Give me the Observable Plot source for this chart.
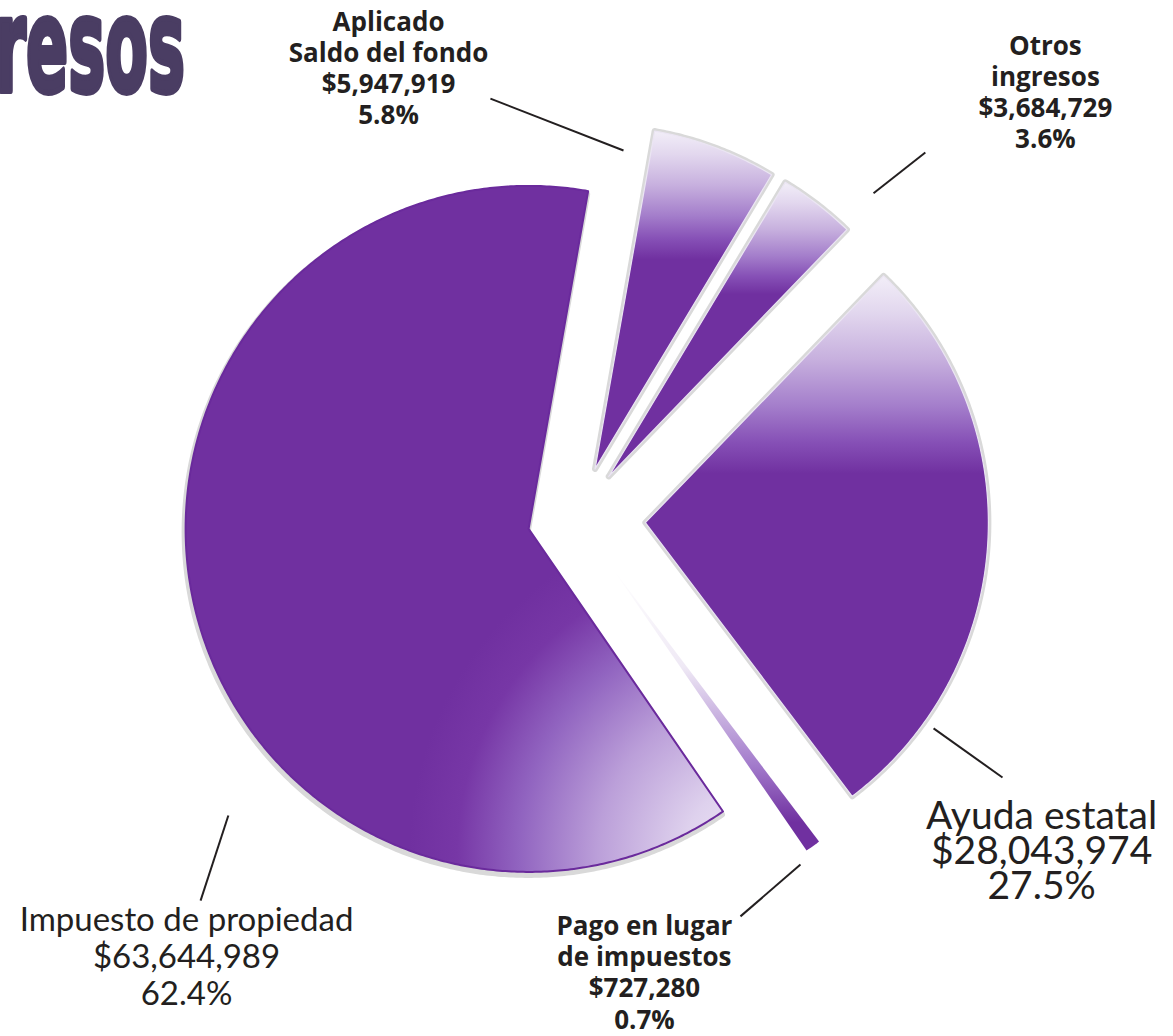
<!DOCTYPE html>
<html>
<head>
<meta charset="utf-8">
<script src="https://cdn.jsdelivr.net/npm/d3@7"></script>
<script src="https://cdn.jsdelivr.net/npm/@observablehq/plot@0.6"></script>
<style>
  html, body { margin: 0; padding: 0; background: #ffffff; }
  #chart { width: 1173px; height: 1036px; overflow: hidden; }
</style>
</head>
<body>
<div id="chart"></div>
<script>
// ---------------- DATA ----------------
const title = "Ingresos";
const categories = [
  "Aplicado Saldo del fondo",
  "Otros ingresos",
  "Ayuda estatal",
  "Pago en lugar de impuestos",
  "Impuesto de propiedad"
];
const labelLines = [
  ["Aplicado", "Saldo del fondo"],
  ["Otros", "ingresos"],
  ["Ayuda estatal"],
  ["Pago en lugar", "de impuestos"],
  ["Impuesto de propiedad"]
];
const amounts = [5947919, 3684729, 28043974, 727280, 63644989];

// ---------------- LAYOUT / STYLE ----------------
const W = 1173, H = 1036;
const R = 343;            // pie radius in px (1 unit)
const CX = 576, CY = 518; // base pie centre in px
const startDeg = 10;      // first slice start, clockwise from 12 o'clock
const explodePx = [53, 53, 69, 61, 49];
// label block anchors (top-centre), in pie-radius units from the centre
const labelPos = [[-0.548, -1.487], [1.367, -1.417], [1.356, 0.833], [0.198, 1.150], [-1.137, 1.126]];
// leader lines, in pie-radius units from the centre
const leaderPos = [
  [0.137, -1.073, -0.251, -1.224],
  [0.866, -0.948, 1.017, -1.067],
  [1.041, 0.612, 1.242, 0.755],
  [0.653, 1.009, 0.478, 1.160],
  [-1.015, 0.866, -1.096, 1.114]
];
const labelStyle = [
  {font: "Open Sans", weight: "bold", size: 26, lh: 1.2},
  {font: "Open Sans", weight: "bold", size: 26, lh: 1.2},
  {font: "Lato", weight: "normal", size: 39, lh: 0.9},
  {font: "Open Sans", weight: "bold", size: 26, lh: 1.2},
  {font: "Lato", weight: "normal", size: 33, lh: 1.12}
];
const PURPLE = "#7030a0";
const INK = "#231f20";

// ---------------- GEOMETRY ----------------
const total = d3.sum(amounts);
const fmtMoney = d3.format("$,");
const fmtPct = d3.format(".1%");
const a0 = startDeg * Math.PI / 180;
const arcs = d3.pie().sort(null).value(d => d).startAngle(a0).endAngle(a0 + 2 * Math.PI)(amounts);

const slices = arcs.map((a, i) => {
  const mid = (a.startAngle + a.endAngle) / 2;
  const e = explodePx[i] / R;
  const ox = e * Math.sin(mid), oy = -e * Math.cos(mid);
  const pts = [{x: ox, y: oy}];
  const n = Math.max(4, Math.ceil((a.endAngle - a.startAngle) / (Math.PI / 360)));
  for (let k = 0; k <= n; k++) {
    const t = a.startAngle + (a.endAngle - a.startAngle) * k / n;
    pts.push({x: ox + Math.sin(t), y: oy - Math.cos(t)});
  }
  pts.push({x: ox, y: oy});
  return {i, a, ox, oy, pts};
});

// gradient definitions
function gradientDefs(index, scales) {
  const sx = scales && typeof scales.x === "function" ? scales.x : (u => CX + u * R);
  const sy = scales && typeof scales.y === "function" ? scales.y : (u => CY + u * R);
  const defs = d3.create("svg:defs");
  const lin = [
    [0, "#f2eef8"], [0.07, "#e2d7ee"], [0.16, "#c7b0de"], [0.25, "#a47ecb"],
    [0.32, "#8650b6"], [0.38, PURPLE], [1, PURPLE]
  ];
  [0, 1, 2].forEach(i => {
    const g = defs.append("linearGradient").attr("id", "grad" + i)
      .attr("x1", 0).attr("y1", 0).attr("x2", 0).attr("y2", 1);
    lin.forEach(([o, c]) => g.append("stop").attr("offset", o).attr("stop-color", c));
  });
  const gp = defs.append("linearGradient").attr("id", "grad3")
    .attr("x1", 0).attr("y1", 0).attr("x2", 0).attr("y2", 1);
  [[0, "#ffffff"], [0.35, "#efe9f5"], [0.7, "#a27acb"], [0.9, PURPLE], [1, PURPLE]]
    .forEach(([o, c]) => gp.append("stop").attr("offset", o).attr("stop-color", c));
  // radial highlight of the large slice, placed just beyond its first corner
  const s = slices[4];
  const gx = s.ox + 1.15 * Math.sin(s.a.startAngle);
  const gy = s.oy - 1.15 * Math.cos(s.a.startAngle);
  const rr = sx(1) - sx(0);
  const gr = defs.append("radialGradient").attr("id", "grad4")
    .attr("gradientUnits", "userSpaceOnUse")
    .attr("cx", sx(gx)).attr("cy", sy(gy)).attr("r", rr);
  [[0, "#f0eaf7"], [0.2, "#ded1ed"], [0.45, "#bb9fd9"], [0.68, "#9164c0"],
   [0.86, "#7737a6"], [1, PURPLE]]
    .forEach(([o, c]) => gr.append("stop").attr("offset", o).attr("stop-color", c));
  return defs.node();
}

// title (partially outside the page on the left, as in the source)
function titleMark() {
  const g = d3.create("svg:g");
  g.append("text")
    .attr("transform", "translate(185,91) scale(0.475,1)")
    .attr("text-anchor", "end")
    .attr("font-family", "DejaVu Sans")
    .attr("font-weight", "bold")
    .attr("font-size", 131)
    .attr("fill", "#4a3d63")
    .attr("stroke", "#4a3d63")
    .attr("stroke-width", 6)
    .attr("stroke-linejoin", "round")
    .text(title);
  return g.node();
}

const shadowMarks = slices.filter(s => s.i !== 3).map(s =>
  Plot.line(s.pts, {
    x: "x", y: "y", fill: "#d9d9d9", stroke: "#d9d9d9",
    strokeWidth: 6, strokeLinejoin: "round",
    dx: s.i === 4 ? -1 : 0, dy: s.i === 4 ? 3 : 0
  })
);
const sliceMarks = slices.map(s =>
  Plot.line(s.pts, {
    x: "x", y: "y", fill: `url(#grad${s.i})`,
    stroke: s.i === 4 ? "#6a2a9c" : (s.i === 3 ? "none" : "#ebe5f3"),
    strokeWidth: s.i === 4 ? 2 : 1.2, strokeLinejoin: "round"
  })
);

const leaderData = leaderPos.map(([x1, y1, x2, y2], i) => ({x1, y1, x2, y2, name: categories[i]}));
const labelMarks = categories.map((c, i) => {
  const st = labelStyle[i];
  const text = [...labelLines[i], fmtMoney(amounts[i]), fmtPct(amounts[i] / total)].join("\n");
  return Plot.text([{x: labelPos[i][0], y: labelPos[i][1], text}], {
    x: "x", y: "y", text: "text",
    textAnchor: "middle", lineAnchor: "top",
    fontFamily: st.font, fontWeight: st.weight, fontSize: st.size, lineHeight: st.lh,
    fill: INK
  });
});

const chart = Plot.plot({
  width: W, height: H, margin: 0,
  style: {background: "#ffffff"},
  x: {domain: [-CX / R, (W - CX) / R], range: [0, W], axis: null},
  y: {domain: [-CY / R, (H - CY) / R], range: [0, H], axis: null},
  marks: [
    gradientDefs,
    titleMark,
    ...shadowMarks,
    ...sliceMarks,
    Plot.link(leaderData, {x1: "x1", y1: "y1", x2: "x2", y2: "y2", stroke: INK, strokeWidth: 2}),
    ...labelMarks
  ]
});
document.getElementById("chart").appendChild(chart);
</script>
</body>
</html>
